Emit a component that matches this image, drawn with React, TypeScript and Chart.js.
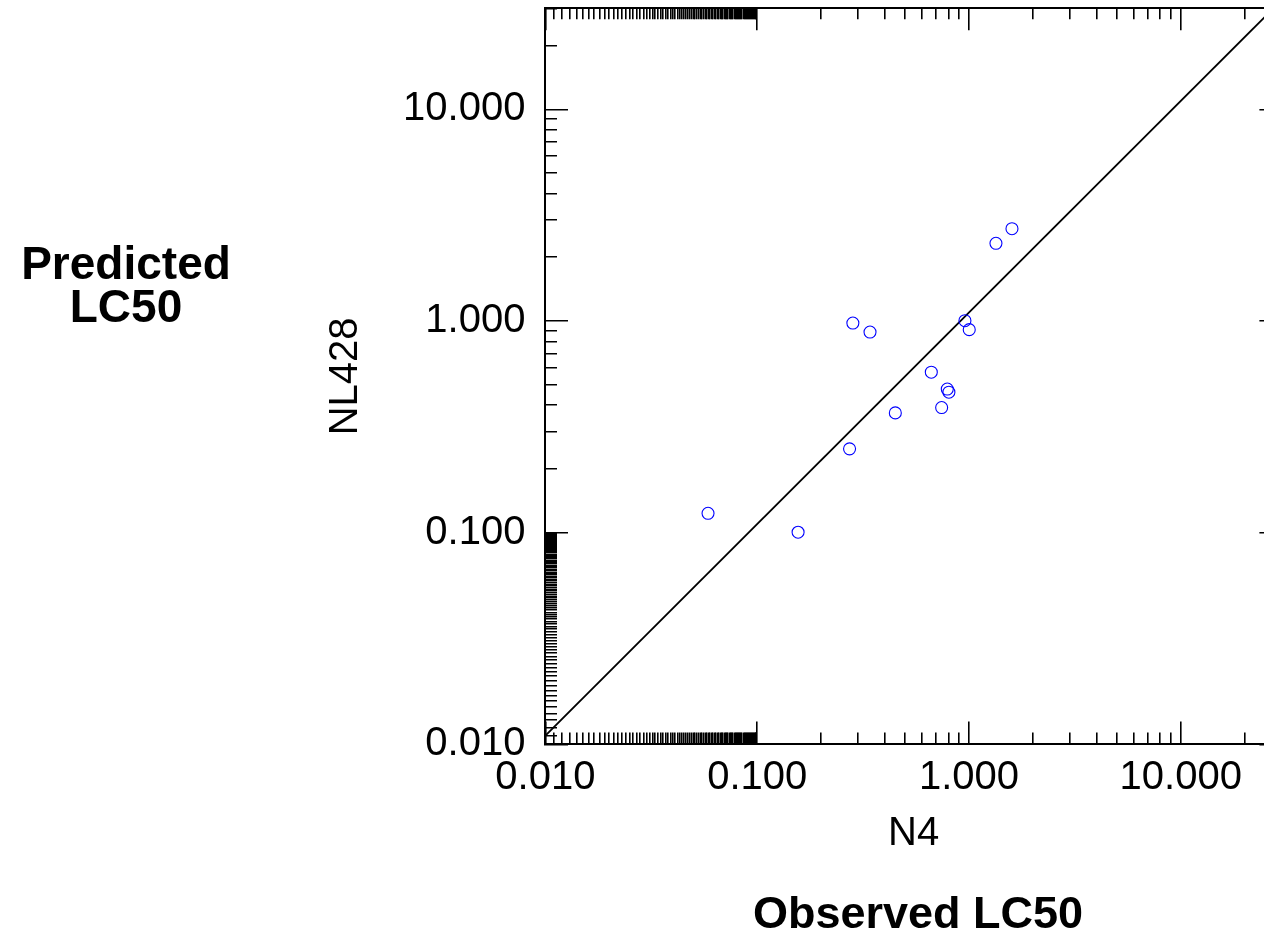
import React, { useEffect, useRef } from 'react';
import { Chart, registerables } from 'chart.js';

Chart.register(...registerables);

// ---- data ----
const OBSERVED_N4 = [0.0586, 0.156, 0.273, 0.283, 0.341, 0.449, 0.664, 0.743, 0.790, 0.804, 0.957, 1.003, 1.341, 1.596];
const PREDICTED_NL428 = [0.1235, 0.1005, 0.249, 0.978, 0.887, 0.368, 0.573, 0.390, 0.477, 0.461, 1.003, 0.910, 2.328, 2.729];
const FIT_X = [0.01, 27.4];
const FIT_Y = [0.011, 30];

// ---- axes ----
const AXIS_MIN = 0.01;
const AXIS_MAX = 30;
const MAJOR_TICKS = [0.01, 0.1, 1, 10];
const MAJOR_LABELS = ['0.010', '0.100', '1.000', '10.000'];
const DENSE_MINOR_TICKS = Array.from({ length: 89 }, (_, i) => (i + 11) / 1000); // 0.011 ... 0.099
const MINOR_TICKS = [0.2, 0.3, 0.4, 0.5, 0.6, 0.7, 0.8, 0.9, 2, 3, 4, 5, 6, 7, 8, 9, 20, 30];
const ALL_TICKS = [...MAJOR_TICKS, ...DENSE_MINOR_TICKS, ...MINOR_TICKS].sort((a, b) => a - b);

const X_TITLE = 'N4';
const Y_TITLE = 'NL428';
const OUTER_X_TITLE = 'Observed LC50';
const OUTER_Y_TITLE = ['Predicted', 'LC50'];

const FAMILY = "'Liberation Sans', Arial, Helvetica, sans-serif";

const MAJOR_LEN = 22;
const MINOR_LEN = 11;

const tickDash = (dir: 'x' | 'y') => (ctx: any) => {
  if (!ctx || ctx.type !== 'tick' || !ctx.tick) return [];
  const area = ctx.chart.chartArea;
  if (!area) return [];
  const L = dir === 'x' ? area.bottom - area.top - 1 : area.right - area.left - 1;
  const len = MAJOR_TICKS.includes(ctx.tick.value) ? MAJOR_LEN : MINOR_LEN;
  return [len, Math.max(0, L - 2 * len), len, 5000];
};

const setTicks = (scale: any) => {
  scale.ticks = ALL_TICKS.map((v) => ({ value: v, major: MAJOR_TICKS.includes(v) }));
};

const tickLabel = (value: any) => {
  const i = MAJOR_TICKS.indexOf(Number(value));
  return i >= 0 ? MAJOR_LABELS[i] : '';
};

const CANVAS_W = 1300;
const CANVAS_H = 933;
const AREA_LEFT = 545.4;
const AREA_RIGHT = 1281.8;
const AREA_TOP = 8.3;
const AREA_BOTTOM = 744.4;
const PAD_LEFT = 318;
const PAD_BOTTOM = 71.5;

const zeroPad = (s: any) => {
  s.paddingTop = 0;
  s.paddingBottom = 0;
  s.paddingLeft = 0;
  s.paddingRight = 0;
};

export default function App() {
  const ref = useRef<HTMLCanvasElement>(null);

  useEffect(() => {
    if (!ref.current) return;
    const chart = new Chart(ref.current, {
      type: 'scatter',
      data: {
        datasets: [
          {
            label: 'NL428 vs N4',
            data: OBSERVED_N4.map((x, i) => ({ x, y: PREDICTED_NL428[i] })),
            showLine: false,
            pointStyle: 'circle',
            pointRadius: 6,
            pointHoverRadius: 6,
            pointBorderWidth: 1.1,
            borderColor: '#0000ff',
            backgroundColor: 'rgba(0,0,0,0)',
            order: 0,
          },
          {
            label: 'fit',
            data: FIT_X.map((x, i) => ({ x, y: FIT_Y[i] })),
            showLine: true,
            pointRadius: 0,
            borderColor: '#000000',
            borderWidth: 1.8,
            order: 1,
          },
        ],
      },
      options: {
        animation: false,
        responsive: false,
        maintainAspectRatio: false,
        events: [],
        layout: { autoPadding: false, padding: { left: PAD_LEFT, right: 0, top: 0, bottom: PAD_BOTTOM } },
        plugins: { legend: { display: false }, tooltip: { enabled: false }, title: { display: false } },
        scales: {
          x: {
            type: 'logarithmic',
            position: 'bottom',
            min: AXIS_MIN,
            max: AXIS_MAX,
            afterBuildTicks: setTicks,
            afterFit: (s: any) => { s.height = (CANVAS_H - PAD_BOTTOM) - AREA_BOTTOM; zeroPad(s); },
            ticks: {
              autoSkip: false,
              maxRotation: 0,
              minRotation: 0,
              padding: 10,
              color: '#000',
              font: { family: FAMILY, size: 40 },
              callback: tickLabel,
            },
            grid: { display: true, drawOnChartArea: true, drawTicks: false, color: '#000', lineWidth: 1.6 },
            border: { display: true, color: '#000', width: 2, dash: tickDash('x') },
            title: { display: true, text: X_TITLE, color: '#000', font: { family: FAMILY, size: 40 }, padding: { top: 0, bottom: 4 } },
          },
          x2: {
            type: 'logarithmic',
            position: 'top',
            min: AXIS_MIN,
            max: AXIS_MAX,
            afterFit: (s: any) => { s.height = AREA_TOP; zeroPad(s); },
            ticks: { display: false },
            grid: { display: false, drawTicks: false },
            border: { display: true, color: '#000', width: 2 },
          },
          y: {
            type: 'logarithmic',
            position: 'left',
            min: AXIS_MIN,
            max: AXIS_MAX,
            afterBuildTicks: setTicks,
            afterFit: (s: any) => { s.width = AREA_LEFT - PAD_LEFT; zeroPad(s); },
            ticks: {
              autoSkip: false,
              padding: 20,
              color: '#000',
              font: { family: FAMILY, size: 40 },
              callback: tickLabel,
            },
            grid: { display: true, drawOnChartArea: true, drawTicks: false, color: '#000', lineWidth: 1.6 },
            border: { display: true, color: '#000', width: 2, dash: tickDash('y') },
            title: { display: true, text: Y_TITLE, color: '#000', font: { family: FAMILY, size: 40 }, padding: { top: 4, bottom: 0 } },
          },
          y2: {
            type: 'logarithmic',
            position: 'right',
            min: AXIS_MIN,
            max: AXIS_MAX,
            afterFit: (s: any) => { s.width = CANVAS_W - AREA_RIGHT; zeroPad(s); },
            ticks: { display: false },
            grid: { display: false, drawTicks: false },
            border: { display: true, color: '#000', width: 2 },
          },
        },
      } as any,
    });
    return () => chart.destroy();
  }, []);

  const bold = (cx: number, cy: number, size: number): React.CSSProperties => ({
    position: 'absolute',
    left: cx,
    top: cy,
    transform: 'translate(-50%, -50%)',
    font: `bold ${size}px ${FAMILY}`,
    lineHeight: `${size}px`,
    whiteSpace: 'nowrap',
    color: '#000',
  });

  return (
    <div style={{ position: 'fixed', left: 0, top: 0, width: 1264, height: 933, overflow: 'hidden', background: '#fff' }}>
      <canvas ref={ref} width={CANVAS_W} height={CANVAS_H} style={{ position: 'absolute', left: 0, top: 0, width: CANVAS_W, height: CANVAS_H }} />
      <div style={bold(126, 263, 46)}>{OUTER_Y_TITLE[0]}</div>
      <div style={bold(126, 306, 46)}>{OUTER_Y_TITLE[1]}</div>
      <div style={bold(918, 912, 45)}>{OUTER_X_TITLE}</div>
    </div>
  );
}
